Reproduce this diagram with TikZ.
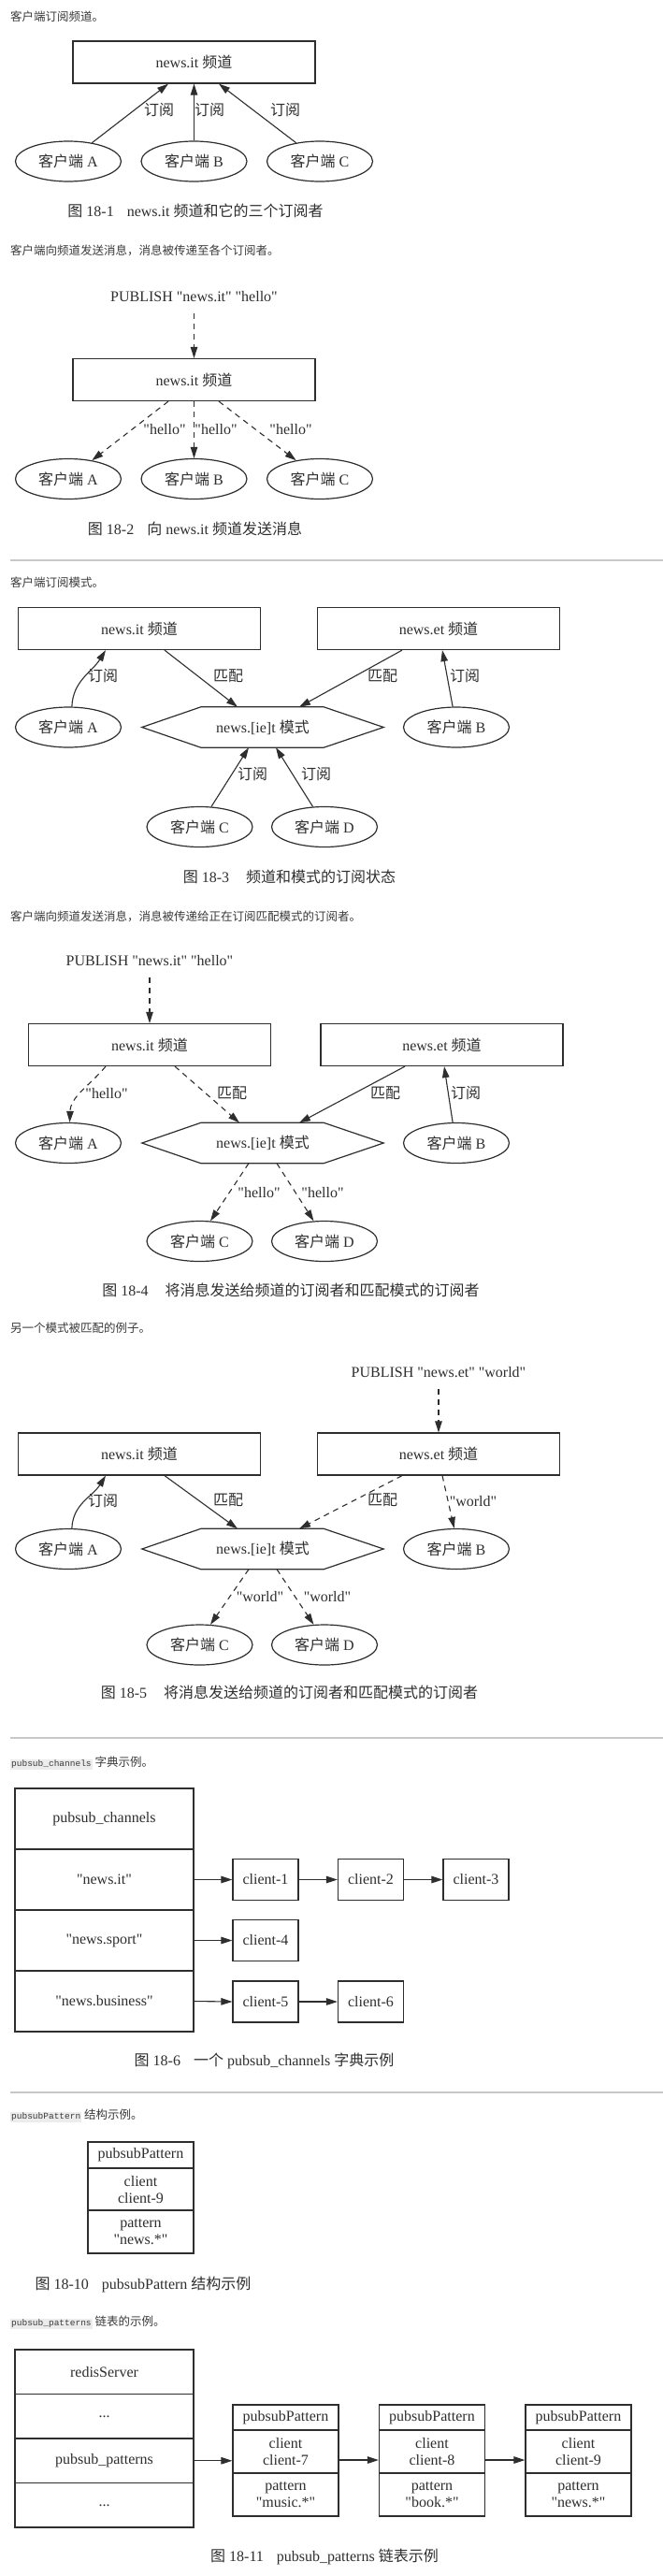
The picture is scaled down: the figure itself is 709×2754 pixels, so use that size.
\documentclass[tikz,border=0pt]{standalone}
\usepackage{fontspec}
\setmainfont{Liberation Serif}[Ligatures=TeXOff]
\newfontfamily\cjk{Noto Sans CJK SC}
\newfontfamily\codefont{Liberation Mono}
\usetikzlibrary{arrows.meta,shapes.geometric,calc}
\definecolor{ink}{HTML}{2E2E2E}
\definecolor{rulegray}{HTML}{C8C8C8}
\definecolor{codebg}{HTML}{ECECEC}
\definecolor{headgray}{HTML}{3A3A3A}
\newcommand\zh[1]{{\cjk #1}}
\newcommand\codebit[1]{{\setlength{\fboxsep}{1pt}\colorbox{codebg}{\codefont\fontsize{9.5}{11}\selectfont #1}}}
\newcommand\hexat[1]{\draw[draw=ink,line width=1.2pt] (#1.west) -- ([xshift=63pt]#1.north west) -- ([xshift=-64pt]#1.north east) -- (#1.east) -- ([xshift=-64pt]#1.south east) -- ([xshift=63pt]#1.south west) -- cycle;}
\tikzset{
  dgfont/.style={font=\fontsize{16}{18}\selectfont},
  chan/.style={draw=ink, line width=1.2pt, minimum width=259pt, minimum height=45pt, inner sep=0pt, text=ink, dgfont},
  cli/.style={ellipse, draw=ink, line width=1.2pt, minimum width=113pt, minimum height=43pt, inner sep=0pt, text=ink, dgfont},
  hexbox/.style={minimum width=258pt, minimum height=43pt, inner sep=0pt, text=ink, dgfont},
  lbl/.style={inner sep=0pt, text=ink, dgfont},
  conn/.style={draw=ink, line width=1.1pt, -{Triangle[length=12pt,width=7.5pt]}},
  dconn/.style={conn, dash pattern=on 6pt off 5pt},
  hdr/.style={anchor=west, inner sep=0pt, text=headgray, font=\cjk\fontsize{12.5}{14}\selectfont},
  figcap/.style={inner sep=0pt, text=ink, dgfont},
  tcell/.style={draw=ink, line width=1.2pt, inner sep=0pt, text=ink, dgfont, align=center},
  hrule/.style={draw=rulegray, line width=2pt},
}
\begin{document}
\begin{tikzpicture}[x=1pt,y=-1pt]
\fill[white] (0,0) rectangle (709,2754);
\useasboundingbox (0,0) rectangle (709,2754);

% ---------------- Fig 18-1
\node[hdr] (h1) at (11,18) {客户端订阅频道。};
\node[chan] (ch1) at (207.5,66.5) {news.it \zh{频道}};
\node[cli] (a1) at (73,172.5) {\zh{客户端} A};
\node[cli] (b1) at (207.5,172.5) {\zh{客户端} B};
\node[cli] (c1) at (342,172.5) {\zh{客户端} C};
\draw[conn] (a1.38) -- ([xshift=-27.5pt]ch1.south);
\draw[conn] (b1.north) -- (ch1.south);
\draw[conn] (c1.142) -- ([xshift=26.5pt]ch1.south);
\node[lbl] (l11) at (170,118) {\zh{订阅}};
\node[lbl] (l12) at (224,118) {\zh{订阅}};
\node[lbl] (l13) at (305,118) {\zh{订阅}};
\node[figcap] (f1) at (209,225) {\zh{图} 18-1\hspace{14pt}news.it \zh{频道和它的三个订阅者}};

% ---------------- Fig 18-2
\node[hdr] (h2) at (11,268) {客户端向频道发送消息，消息被传递至各个订阅者。};
\node[lbl] (p2) at (207.5,317) {PUBLISH "news.it" "hello"};
\node[chan] (ch2) at (207.5,406) {news.it \zh{频道}};
\node[cli] (a2) at (73,512) {\zh{客户端} A};
\node[cli] (b2) at (207.5,512) {\zh{客户端} B};
\node[cli] (c2) at (342,512) {\zh{客户端} C};
\draw[dconn, shorten <=12pt] (p2.south) -- (ch2.north);
\draw[dconn] ([xshift=-27.5pt]ch2.south) -- (a2.38);
\draw[dconn] (ch2.south) -- (b2.north);
\draw[dconn] ([xshift=26.5pt]ch2.south) -- (c2.142);
\node[lbl] (l21) at (176,459) {"hello"};
\node[lbl] (l22) at (231,459) {"hello"};
\node[lbl] (l23) at (311,459) {"hello"};
\node[figcap] (f2) at (208.5,565) {\zh{图} 18-2\hspace{14pt}\zh{向} news.it \zh{频道发送消息}};

\draw[hrule] (11,599) -- (709,599);

% ---------------- Fig 18-3
\node[hdr] (h3) at (11,623) {客户端订阅模式。};
\node[chan] (it3) at (149,672) {news.it \zh{频道}};
\node[chan] (et3) at (469,672) {news.et \zh{频道}};
\node[hexbox] (x3) at (281,777.5) {news.[ie]t \zh{模式}};
\hexat{x3}
\node[cli] (a3) at (73,777.5) {\zh{客户端} A};
\node[cli] (b3) at (488,777.5) {\zh{客户端} B};
\node[cli] (c3) at (213.5,884) {\zh{客户端} C};
\node[cli] (d3) at (347,884) {\zh{客户端} D};
\draw[conn] (a3.80) to[out=88,in=-122] ([xshift=-36pt]it3.south);
\draw[conn] ([xshift=27pt]it3.south) -- ([xshift=-27pt]x3.north);
\draw[conn] ([xshift=-39pt]et3.south) -- ([xshift=39pt]x3.north);
\draw[conn] (b3.100) -- ([xshift=4pt]et3.south);
\draw[conn] (c3.60) -- ([xshift=-15pt]x3.south);
\draw[conn] (d3.120) -- ([xshift=14pt]x3.south);
\node[lbl] (l31) at (110,723) {\zh{订阅}};
\node[lbl] (l32) at (244,723) {\zh{匹配}};
\node[lbl] (l33) at (409,723) {\zh{匹配}};
\node[lbl] (l34) at (497,723) {\zh{订阅}};
\node[lbl] (l35) at (270,828) {\zh{订阅}};
\node[lbl] (l36) at (338,828) {\zh{订阅}};
\node[figcap] (f3) at (309.5,937) {\zh{图} 18-3\hspace{18pt}\zh{频道和模式的订阅状态}};

% ---------------- Fig 18-4
\node[hdr] (h4) at (11,980) {客户端向频道发送消息，消息被传递给正在订阅匹配模式的订阅者。};
\node[lbl] (p4) at (160,1027) {PUBLISH "news.it" "hello"};
\node[chan] (it4) at (160,1117) {news.it \zh{频道}};
\node[chan] (et4) at (472.5,1117) {news.et \zh{频道}};
\node[hexbox] (x4) at (281,1222) {news.[ie]t \zh{模式}};
\hexat{x4}
\node[cli] (a4) at (73,1222) {\zh{客户端} A};
\node[cli] (b4) at (488,1222) {\zh{客户端} B};
\node[cli] (c4) at (213.5,1327) {\zh{客户端} C};
\node[cli] (d4) at (347,1327) {\zh{客户端} D};
\draw[dconn, shorten <=12pt] (p4.south) -- (it4.north);
\draw[dconn] ([xshift=-47pt]it4.south) to[out=-130,in=88] (a4.86);
\draw[dconn] ([xshift=27pt]it4.south) -- ([xshift=-25pt]x4.north);
\draw[conn] ([xshift=-39.5pt]et4.south) -- ([xshift=39pt]x4.north);
\draw[conn] (b4.100) -- ([xshift=2.5pt]et4.south);
\draw[dconn] ([xshift=-15pt]x4.south) -- (c4.62);
\draw[dconn] ([xshift=15pt]x4.south) -- (d4.118);
\node[lbl] (l41) at (114,1169) {"hello"};
\node[lbl] (l42) at (248,1169) {\zh{匹配}};
\node[lbl] (l43) at (412,1169) {\zh{匹配}};
\node[lbl] (l44) at (498,1169) {\zh{订阅}};
\node[lbl] (l45) at (277,1275) {"hello"};
\node[lbl] (l46) at (345,1275) {"hello"};
\node[figcap] (f4) at (311,1379) {\zh{图} 18-4\hspace{18pt}\zh{将消息发送给频道的订阅者和匹配模式的订阅者}};

% ---------------- Fig 18-5
\node[hdr] (h5) at (11,1420) {另一个模式被匹配的例子。};
\node[lbl] (p5) at (469,1467) {PUBLISH "news.et" "world"};
\node[chan] (it5) at (149,1554.5) {news.it \zh{频道}};
\node[chan] (et5) at (469,1554.5) {news.et \zh{频道}};
\node[hexbox] (x5) at (281,1656) {news.[ie]t \zh{模式}};
\hexat{x5}
\node[cli] (a5) at (73,1656) {\zh{客户端} A};
\node[cli] (b5) at (488,1656) {\zh{客户端} B};
\node[cli] (c5) at (213.5,1758.5) {\zh{客户端} C};
\node[cli] (d5) at (347,1758.5) {\zh{客户端} D};
\draw[dconn, shorten <=12pt] (p5.south) -- (et5.north);
\draw[conn] (a5.80) to[out=88,in=-122] ([xshift=-36pt]it5.south);
\draw[conn] ([xshift=27pt]it5.south) -- ([xshift=-27pt]x5.north);
\draw[dconn] ([xshift=-39pt]et5.south) -- ([xshift=39pt]x5.north);
\draw[dconn] ([xshift=4pt]et5.south) -- (b5.96);
\draw[dconn] ([xshift=-15pt]x5.south) -- (c5.62);
\draw[dconn] ([xshift=15pt]x5.south) -- (d5.118);
\node[lbl] (l51) at (110,1604) {\zh{订阅}};
\node[lbl] (l52) at (244,1604) {\zh{匹配}};
\node[lbl] (l53) at (409,1604) {\zh{匹配}};
\node[lbl] (l54) at (506,1605) {"world"};
\node[lbl] (l55) at (278,1707) {"world"};
\node[lbl] (l56) at (350,1707) {"world"};
\node[figcap] (f5) at (309.5,1809) {\zh{图} 18-5\hspace{18pt}\zh{将消息发送给频道的订阅者和匹配模式的订阅者}};

\draw[hrule] (11,1858) -- (709,1858);

% ---------------- Fig 18-6
\node[hdr] (h6) at (11,1885) {\codebit{pubsub\_channels} 字典示例。};
\node[tcell, minimum width=191pt, minimum height=65pt] (r61) at (111.5,1944.5) {pubsub\_channels};
\node[tcell, minimum width=191pt, minimum height=65pt] (r62) at (111.5,2009.5) {"news.it"};
\node[tcell, minimum width=191pt, minimum height=65pt] (r63) at (111.5,2074.5) {"news.sport"};
\node[tcell, minimum width=191pt, minimum height=65pt] (r64) at (111.5,2139.5) {"news.business"};
\node[tcell, minimum width=70pt, minimum height=44pt] (k1) at (284,2009.5) {client-1};
\node[tcell, minimum width=70pt, minimum height=44pt] (k2) at (396.5,2009.5) {client-2};
\node[tcell, minimum width=70pt, minimum height=44pt] (k3) at (509,2009.5) {client-3};
\node[tcell, minimum width=70pt, minimum height=44pt] (k4) at (284,2074.5) {client-4};
\node[tcell, minimum width=70pt, minimum height=44pt] (k5) at (284,2140) {client-5};
\node[tcell, minimum width=70pt, minimum height=44pt] (k6) at (396.5,2140) {client-6};
\draw[conn] (r62.east) -- (k1.west);
\draw[conn] (k1.east) -- (k2.west);
\draw[conn] (k2.east) -- (k3.west);
\draw[conn] (r63.east) -- (k4.west);
\draw[conn] (r64.east) -- (k5.west);
\draw[conn] (k5.east) -- (k6.west);
\node[figcap] (f6) at (282.5,2203) {\zh{图} 18-6\hspace{14pt}\zh{一个} pubsub\_channels \zh{字典示例}};

\draw[hrule] (11,2237) -- (709,2237);

% ---------------- Fig 18-10
\node[hdr] (h7) at (11,2262) {\codebit{pubsubPattern} 结构示例。};
\node[tcell, minimum width=113pt, minimum height=28pt] (q1) at (150.5,2304) {pubsubPattern};
\node[tcell, minimum width=113pt, minimum height=45pt] (q2) at (150.5,2340.5) {client\\client-9};
\node[tcell, minimum width=113pt, minimum height=46pt] (q3) at (150.5,2386) {pattern\\"news.*"};
\node[figcap] (f7) at (153,2442) {\zh{图} 18-10\hspace{14pt}pubsubPattern \zh{结构示例}};

% ---------------- Fig 18-11
\node[hdr] (h8) at (11,2483) {\codebit{pubsub\_patterns} 链表的示例。};
\node[tcell, minimum width=191pt, minimum height=47.5pt] (s1) at (111.5,2535.75) {redisServer};
\node[tcell, minimum width=191pt, minimum height=47.5pt] (s2) at (111.5,2583.25) {...};
\node[tcell, minimum width=191pt, minimum height=47.5pt] (s3) at (111.5,2630.75) {pubsub\_patterns};
\node[tcell, minimum width=191pt, minimum height=47.5pt] (s4) at (111.5,2678.25) {...};
\foreach \n/\cx/\cl/\pt in {1/305.5/client-7/"music.*", 2/462/client-8/"book.*", 3/618.5/client-9/"news.*"}{
  \node[tcell, minimum width=113pt, minimum height=27pt] (u\n a) at (\cx,2584.5) {pubsubPattern};
  \node[tcell, minimum width=113pt, minimum height=46pt] (u\n b) at (\cx,2621) {client\\\cl};
  \node[tcell, minimum width=113pt, minimum height=46pt] (u\n c) at (\cx,2667) {pattern\\\pt};
}
\draw[conn] (s3.east) -- (s3.east -| u1b.west);
\draw[conn] ([yshift=-9pt]u1b.east) -- ([yshift=-9pt]u2b.west);
\draw[conn] ([yshift=-9pt]u2b.east) -- ([yshift=-9pt]u3b.west);
\node[figcap] (f8) at (347,2733) {\zh{图} 18-11\hspace{14pt}pubsub\_patterns \zh{链表示例}};
\end{tikzpicture}
\end{document}
